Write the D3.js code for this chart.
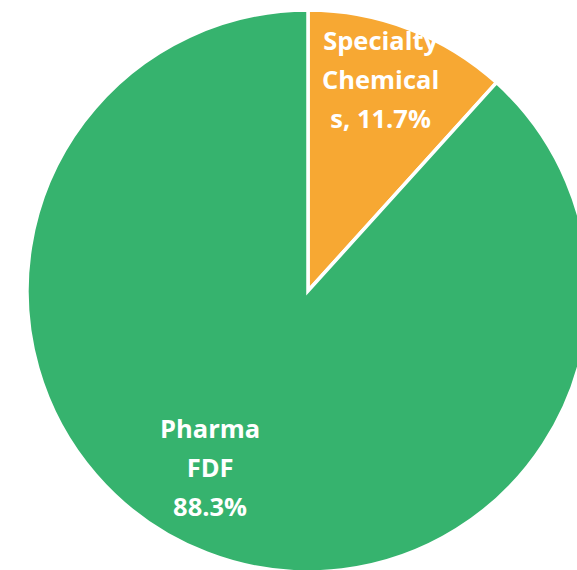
<!DOCTYPE html>
<html>
<head>
<meta charset="utf-8">
<script src="https://cdn.jsdelivr.net/npm/d3@7"></script>
<style>
  html, body { margin: 0; padding: 0; background: #fff; }
  svg { display: block; }
</style>
</head>
<body>
<svg id="chart" width="577" height="570"></svg>
<script>
// Revenue split by segment
const segments = ["Specialty Chemicals", "Pharma FDF"];
const shares = [11.7, 88.3];
const labelLines = [
  ["Specialty", "Chemical", "s, 11.7%"],
  ["Pharma", "FDF", "88.3%"]
];
const colors = ["#F7A833", "#36B36E"];

const W = 577, H = 570;
const cx = 308, cy = 291, R = 281;

// label anchors: angle (degrees clockwise from 12 o'clock) and radius
const labelAnchor = [
  { angle: 19, r: 223 },
  { angle: 209, r: 202 }
];

const svg = d3.select("#chart");
const g = svg.append("g").attr("transform", `translate(${cx},${cy})`);

const pie = d3.pie().sort(null).value(d => d.value);
const arcs = pie(segments.map((s, i) => ({ name: s, value: shares[i], i })));
const arc = d3.arc().innerRadius(0).outerRadius(R);

g.selectAll("path.slice")
  .data(arcs)
  .join("path")
  .attr("class", "slice")
  .attr("d", arc)
  .attr("fill", d => colors[d.data.i])
  .attr("stroke", "#fff")
  .attr("stroke-width", 3.5)
  .attr("stroke-linejoin", "miter");

const lineH = 39;
g.selectAll("text.lbl")
  .data(arcs)
  .join("text")
  .attr("class", "lbl")
  .attr("text-anchor", "middle")
  .attr("fill", "#fff")
  .attr("font-family", "'Open Sans', sans-serif")
  .attr("font-weight", 700)
  .attr("font-size", 25.5)
  .each(function(d) {
    const a = labelAnchor[d.data.i];
    const rad = a.angle * Math.PI / 180;
    const x = a.r * Math.sin(rad);
    const y = -a.r * Math.cos(rad);
    const lines = labelLines[d.data.i];
    const t = d3.select(this);
    lines.forEach((ln, k) => {
      t.append("tspan")
        .attr("x", x)
        .attr("y", y + 9 + (k - (lines.length - 1) / 2) * lineH)
        .text(ln);
    });
  });
</script>
</body>
</html>
